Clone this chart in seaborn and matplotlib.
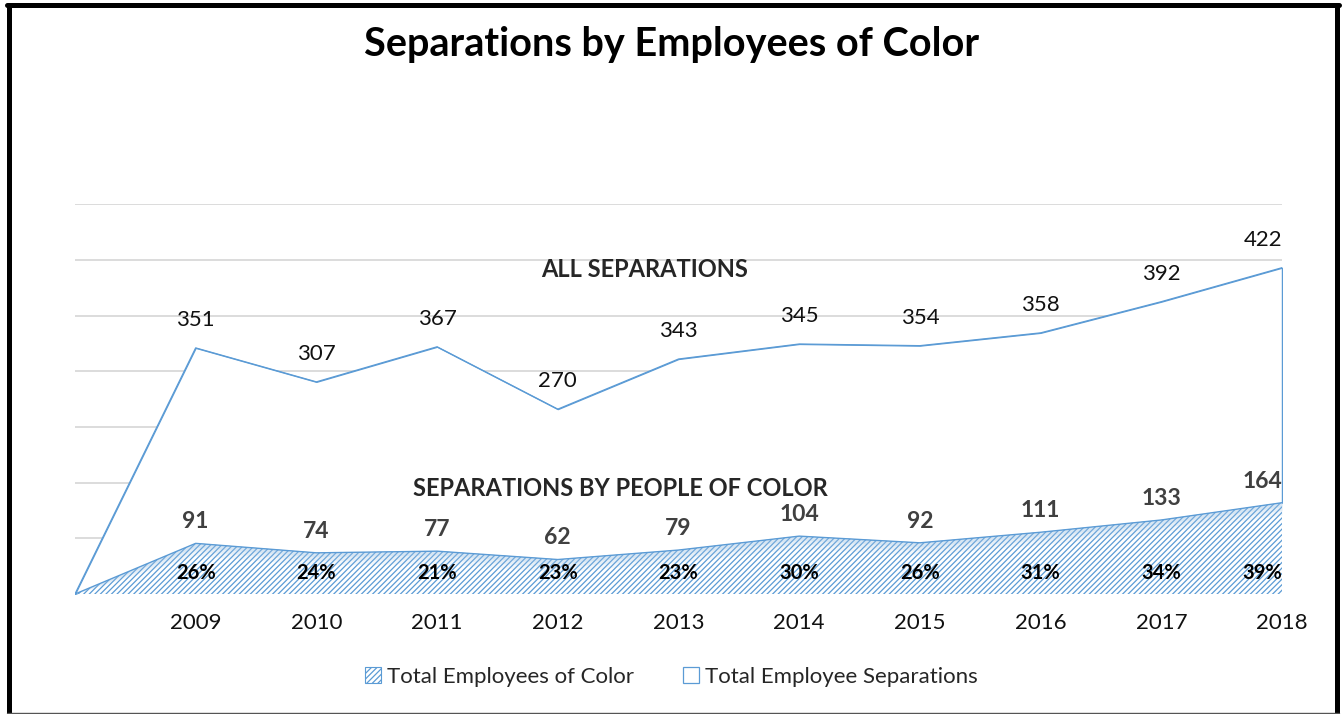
import matplotlib
matplotlib.use("Agg")
import matplotlib.pyplot as plt
from matplotlib.patches import Patch
from matplotlib.lines import Line2D
import seaborn as sns
import pandas as pd
import numpy as np

# chart data
categories = ["", "2009", "2010", "2011", "2012", "2013", "2014", "2015", "2016", "2017", "2018"]
color_seps = [0, 91, 74, 77, 62, 79, 104, 92, 111, 133, 164]      # Total Employees of Color
total_seps = [0, 351, 307, 367, 270, 343, 345, 354, 358, 392, 422]  # Total Employee Separations
pct_labels = ["26%", "24%", "21%", "23%", "23%", "30%", "26%", "31%", "34%", "39%"]

df = pd.DataFrame({"cat": categories, "color": color_seps, "total": total_seps})
df["x"] = range(len(df))
df["stack"] = df["color"] + df["total"]

sns.set_theme(style="white")
plt.rcParams["font.family"] = ["Lato", "DejaVu Sans"]
plt.rcParams["hatch.linewidth"] = 0.9
plt.rcParams["hatch.color"] = "#5B9BD5"

blue = "#5B9BD5"
fig = plt.figure(figsize=(13.43, 7.14), dpi=100)
ax = fig.add_axes([0.0558, 0.168, 0.8988, 0.546])

# grid under the areas
for g in range(100, 800, 100):
    ax.axhline(g, color="#D9D9D9", lw=1.3, zorder=0)

# stacked areas
ax.fill_between(df["x"], 0, df["color"], facecolor="white", edgecolor=blue,
                hatch="//////", lw=0, zorder=2)
# soft shading along the top edge of the hatched area
for depth, a in [(22, 0.12), (14, 0.15), (7, 0.2)]:
    ax.fill_between(df["x"], np.maximum(df["color"] - depth, 0), df["color"],
                    facecolor="#9DC3E6", alpha=a, lw=0, zorder=2.5)
ax.fill_between(df["x"], df["color"], df["stack"], facecolor="white", edgecolor=blue,
                lw=0.9, zorder=1)
sns.lineplot(data=df, x="x", y="color", color=blue, lw=1.0, ax=ax, zorder=3)
sns.lineplot(data=df, x="x", y="stack", color=blue, lw=0.9, ax=ax, zorder=3)
ax.plot([df["x"].iloc[-1]] * 2, [df["color"].iloc[-1], df["stack"].iloc[-1]], color=blue, lw=0.9, zorder=3)
ax.axhline(0, color="#D9D9D9", lw=1.0, zorder=1)

n = len(df)
for i in range(1, n):
    dx = -14 if i == n - 1 else 0
    ax.annotate(str(df["total"][i]), (i, df["stack"][i]), xytext=(dx, 13), textcoords="offset points",
                ha="center", va="bottom", fontsize=16, color="#111111", zorder=5)
    ax.annotate(str(df["color"][i]), (i, df["color"][i]), xytext=(dx, 8), textcoords="offset points",
                ha="center", va="bottom", fontsize=16.5, fontweight="bold", color="#404040", zorder=5)
    ax.annotate(pct_labels[i - 1], (i, 0), xytext=(dx, 15), textcoords="offset points",
                ha="center", va="center", fontsize=14.5, fontweight="bold", color="black", zorder=5)

ax.text(4.72, 583, "ALL SEPARATIONS", ha="center", va="center", fontsize=17, fontweight="bold", zorder=5)
ax.text(4.52, 190, "SEPARATIONS BY PEOPLE OF COLOR", ha="center", va="center", fontsize=17,
        fontweight="bold", zorder=5)

ax.set_xlim(0, n - 1)
ax.set_ylim(0, 700)
ax.set_xticks(df["x"])
ax.set_xticklabels(df["cat"], fontsize=16, color="#111111")
ax.tick_params(axis="x", length=0, pad=14)
ax.set_yticks([])
ax.set_xlabel("")
ax.set_ylabel("")
for s in ax.spines.values():
    s.set_visible(False)

fig.text(0.5, 0.937, "Separations by Employees of Color", ha="center", va="center",
         fontsize=28.5, fontweight="bold", color="black")

handles = [Patch(facecolor="white", edgecolor=blue, hatch="//////", lw=0.8),
           Patch(facecolor="white", edgecolor=blue, lw=0.9)]
fig.legend(handles, ["Total Employees of Color", "Total Employee Separations"], loc="center",
           bbox_to_anchor=(0.5, 0.052), ncol=2, frameon=False, fontsize=16, handlelength=0.7,
           handleheight=0.7, columnspacing=2.2, handletextpad=0.3)

# outer frame
fig.add_artist(Line2D([0.0067, 0.0067], [0.0, 0.993], color="black", lw=3.6, transform=fig.transFigure))
fig.add_artist(Line2D([0.9955, 0.9955], [0.0, 0.993], color="black", lw=3.6, transform=fig.transFigure))
fig.add_artist(Line2D([0.0055, 0.9967], [0.993, 0.993], color="black", lw=3.6, transform=fig.transFigure))
fig.add_artist(Line2D([0.0055, 0.9967], [0.001, 0.001], color="#555555", lw=1.0, transform=fig.transFigure))

fig.savefig("out.png", dpi=100)
